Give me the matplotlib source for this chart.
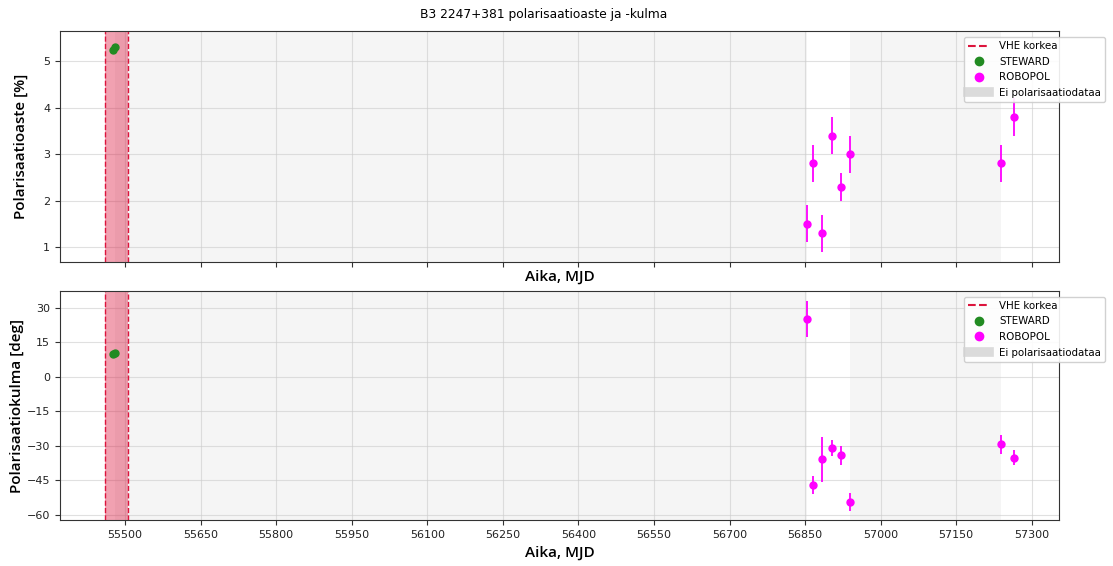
import matplotlib
matplotlib.use("Agg")
import matplotlib.pyplot as plt
from matplotlib.lines import Line2D
import numpy as np

# Data
steward_mjd = [55476.5, 55479.5]
steward_pol = [5.24, 5.31]
steward_ang = [10.0, 10.4]

robopol_mjd = [56854.6, 56865.3, 56883.0, 56903.6, 56920.9, 56940.0, 57239.0, 57265.0]
robopol_pol = [1.5, 2.8, 1.3, 3.4, 2.3, 3.0, 2.8, 3.8]
robopol_pol_err = [0.4, 0.4, 0.4, 0.4, 0.3, 0.4, 0.4, 0.4]
robopol_ang = [25.0, -47.0, -35.8, -30.9, -34.1, -54.3, -29.3, -35.1]
robopol_ang_err = [7.8, 3.9, 9.8, 3.3, 4.2, 4.0, 4.0, 3.3]

vhe_start, vhe_end = 55460, 55506
gaps = [(55479.5, 56854.6), (56940.0, 57239.0)]

xticks = list(range(55500, 57301, 150))

fig = plt.figure(figsize=(11.13, 5.66), dpi=100)
ax1 = fig.add_axes([0.0539, 0.5371, 0.8976, 0.4081])
ax2 = fig.add_axes([0.0539, 0.0807, 0.8976, 0.4057])

label_font = dict(family="Open Sans", fontsize=11, fontweight="semibold")

for ax in (ax1, ax2):
    for g0, g1 in gaps:
        ax.axvspan(g0, g1, color="lightgray", alpha=0.22, lw=0, zorder=0)
    ax.axvspan(vhe_start, vhe_end, color="crimson", alpha=0.4, lw=0, zorder=1)
    ax.axvline(vhe_start, color="crimson", ls="--", lw=1.0, zorder=2)
    ax.axvline(vhe_end, color="crimson", ls="--", lw=1.0, zorder=2)
    ax.grid(True, color="#cccccc", lw=0.8, alpha=0.6, zorder=0.5)
    ax.set_axisbelow(True)
    ax.set_xlim(55371, 57354)
    ax.set_xticks(xticks)
    ax.tick_params(labelsize=8, colors="#333333", labelcolor="#222222")
    for s in ax.spines.values():
        s.set_color("#333333")

ax1.plot(steward_mjd, steward_pol, "o", color="forestgreen", ms=5, zorder=3)
ax1.errorbar(robopol_mjd, robopol_pol, yerr=robopol_pol_err, fmt="o", color="magenta",
             ms=5, elinewidth=1.3, capsize=0, zorder=3)
ax1.set_ylim(0.68, 5.65)
ax1.set_yticks([1, 2, 3, 4, 5])
ax1.tick_params(labelbottom=False)
ax1.set_xlabel("Aika, MJD", labelpad=2, **label_font)
ax1.set_ylabel("Polarisaatioaste [%]", **label_font)
ax1.yaxis.set_label_coords(-0.0323, 0.5)

ax2.plot(steward_mjd, steward_ang, "o", color="forestgreen", ms=5, zorder=3)
ax2.errorbar(robopol_mjd, robopol_ang, yerr=robopol_ang_err, fmt="o", color="magenta",
             ms=5, elinewidth=1.3, capsize=0, zorder=3)
ax2.set_ylim(-62.3, 37.4)
ax2.set_yticks([-60, -45, -30, -15, 0, 15, 30])
ax2.set_xticklabels([str(t) for t in xticks])
ax2.set_xlabel("Aika, MJD", **label_font)
ax2.set_ylabel("Polarisaatiokulma [deg]", **label_font)
ax2.yaxis.set_label_coords(-0.0356, 0.5)

handles = [
    Line2D([], [], color="crimson", ls="--", lw=1.5, label="VHE korkea"),
    Line2D([], [], marker="o", ls="", color="forestgreen", ms=6, label="STEWARD"),
    Line2D([], [], marker="o", ls="", color="magenta", ms=6, label="ROBOPOL"),
    Line2D([], [], color="lightgray", lw=7, alpha=0.8, label="Ei polarisaatiodataa"),
]
for ax in (ax1, ax2):
    ax.legend(handles=handles, loc="upper left", bbox_to_anchor=(0.905, 0.974),
              borderaxespad=0, fontsize=7.4, framealpha=0.9, handlelength=2,
              handletextpad=1.0, labelspacing=0.55)

fig.suptitle("B3 2247+381 polarisaatioaste ja -kulma", x=0.4883, y=0.9735,
             va="center", fontsize=8.8)

fig.savefig("out.png", dpi=100)
